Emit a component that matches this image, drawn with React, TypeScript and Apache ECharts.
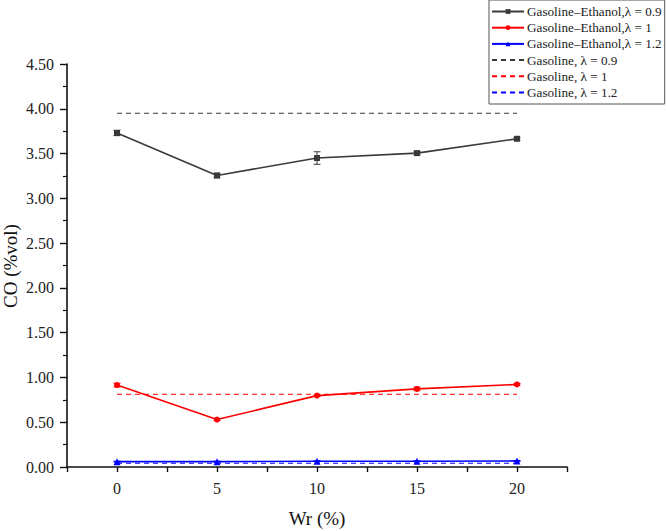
import React, { useEffect, useRef } from "react";
import * as echarts from "echarts";

const wr = [0, 5, 10, 15, 20];
const geLambda09 = [3.73, 3.255, 3.45, 3.505, 3.665];
const geLambda09Err = [0.03, 0.025, 0.07, 0.02, 0.015];
const geLambda1 = [0.915, 0.53, 0.797, 0.872, 0.922];
const geLambda1Err = [0.02, 0.012, 0.01, 0.02, 0.01];
const geLambda12 = [0.06, 0.06, 0.065, 0.065, 0.068];
const geLambda12Err = [0.005, 0.005, 0.005, 0.005, 0.005];
const gasolineCO = [3.95, 0.812, 0.042];

const names = [
  "Gasoline–Ethanol,λ = 0.9",
  "Gasoline–Ethanol,λ = 1",
  "Gasoline–Ethanol,λ = 1.2",
  "Gasoline, λ = 0.9",
  "Gasoline, λ = 1",
  "Gasoline, λ = 1.2",
];
const yAxisTitle = "CO (%vol)";
const xAxisTitle = "Wr (%)";
const colors = ["#3a3a3a", "#ff0000", "#0000ff"];
const FONT = '"Liberation Serif", "Times New Roman", serif';

function errSeries(vals: number[], errs: number[], color: string) {
  return {
    type: "custom",
    silent: true,
    z: 5,
    data: wr.map((x, i) => [x, vals[i], errs[i]]),
    encode: { x: 0, y: 1 },
    renderItem: (params: any, api: any) => {
      const x = api.value(0);
      const y = api.value(1);
      const e = api.value(2);
      const top = api.coord([x, y + e]);
      const bot = api.coord([x, y - e]);
      const w = 3.5;
      const st = { stroke: color, lineWidth: 1 };
      return {
        type: "group",
        children: [
          { type: "line", shape: { x1: top[0], y1: top[1], x2: bot[0], y2: bot[1] }, style: st },
          { type: "line", shape: { x1: top[0] - w, y1: top[1], x2: top[0] + w, y2: top[1] }, style: st },
          { type: "line", shape: { x1: bot[0] - w, y1: bot[1], x2: bot[0] + w, y2: bot[1] }, style: st },
        ],
      };
    },
  };
}

export default function App() {
  const ref = useRef<HTMLDivElement>(null);
  useEffect(() => {
    if (!ref.current) return;
    const chart = echarts.init(ref.current, undefined, { renderer: "svg" });
    const solids = [geLambda09, geLambda1, geLambda12];
    const errs = [geLambda09Err, geLambda1Err, geLambda12Err];
    const symbols = ["rect", "circle", "triangle"];
    const symSizes = [6, 6, 7];
    const series: any[] = [];
    solids.forEach((vals, k) => {
      series.push({
        name: names[k],
        type: "line",
        data: wr.map((x, i) => [x, vals[i]]),
        symbol: symbols[k],
        symbolSize: symSizes[k],
        showSymbol: true,
        lineStyle: { color: colors[k], width: 1.6 },
        itemStyle: { color: colors[k] },
        z: 4,
      });
    });
    gasolineCO.forEach((v, k) => {
      series.push({
        name: names[3 + k],
        type: "line",
        data: [
          [wr[0], v],
          [wr[wr.length - 1], v],
        ],
        symbol: "none",
        lineStyle: { color: colors[k], width: 1, type: [5, 4] },
        itemStyle: { color: colors[k] },
        z: 3,
      });
    });
    solids.forEach((vals, k) => series.push(errSeries(vals, errs[k], colors[k])));

    chart.setOption({
      animation: false,
      textStyle: { fontFamily: FONT },
      grid: { left: 67, right: 99, top: 64, bottom: 64, containLabel: false, outerBoundsMode: "none" },
      graphic: [
        {
          type: "text",
          x: 10,
          y: 266,
          rotation: Math.PI / 2,
          style: {
            text: yAxisTitle,
            font: `19px ${FONT}`,
            fill: "#111",
            textAlign: "center",
            textVerticalAlign: "middle",
          },
        },
      ],
      legend: {
        data: names.map((n, i) =>
          i >= 3 ? { name: n, itemStyle: { opacity: 0 } } : { name: n, itemStyle: { opacity: 1 } }
        ),
        orient: "vertical",
        left: 489,
        top: 0,
        padding: [5, 3, 5, 2],
        itemWidth: 32,
        itemHeight: 6,
        itemGap: 3.2,
        borderColor: "#555",
        borderWidth: 1,
        textStyle: { fontFamily: FONT, fontSize: 13.2, color: "#222", padding: [0, 0, 0, -2] },
      },
      xAxis: {
        type: "value",
        min: -2.5,
        max: 22.5,
        interval: 2.5,
        name: xAxisTitle,
        nameLocation: "middle",
        nameGap: 42,
        nameTextStyle: { fontFamily: FONT, fontSize: 19, color: "#111" },
        axisLine: { show: true, onZero: false, lineStyle: { color: "#111", width: 1.6 } },
        axisTick: { show: true, inside: false, length: 5, lineStyle: { color: "#111", width: 1.4 } },
        axisLabel: {
          fontFamily: FONT,
          fontSize: 16,
          color: "#222",
          margin: 13,
          formatter: (v: number) => (v >= 0 && v <= 20 && Math.abs(v % 5) < 1e-9 ? String(v) : ""),
        },
        splitLine: { show: false },
      },
      yAxis: {
        type: "value",
        min: 0,
        max: 4.5,
        interval: 0.5,
        axisLine: { show: true, onZero: false, lineStyle: { color: "#111", width: 1.6 } },
        axisTick: { show: true, inside: false, length: 7, lineStyle: { color: "#111", width: 1.4 } },
        minorTick: { show: true, splitNumber: 2, length: 4, lineStyle: { color: "#111", width: 1.2 } },
        axisLabel: {
          fontFamily: FONT,
          fontSize: 16,
          color: "#222",
          margin: 13,
          formatter: (v: number) => v.toFixed(2),
        },
        splitLine: { show: false },
      },
      series,
    });
    return () => chart.dispose();
  }, []);
  return (
    <div
      ref={ref}
      style={{ position: "absolute", left: 0, top: 0, width: 666, height: 531, background: "#fff" }}
    />
  );
}
